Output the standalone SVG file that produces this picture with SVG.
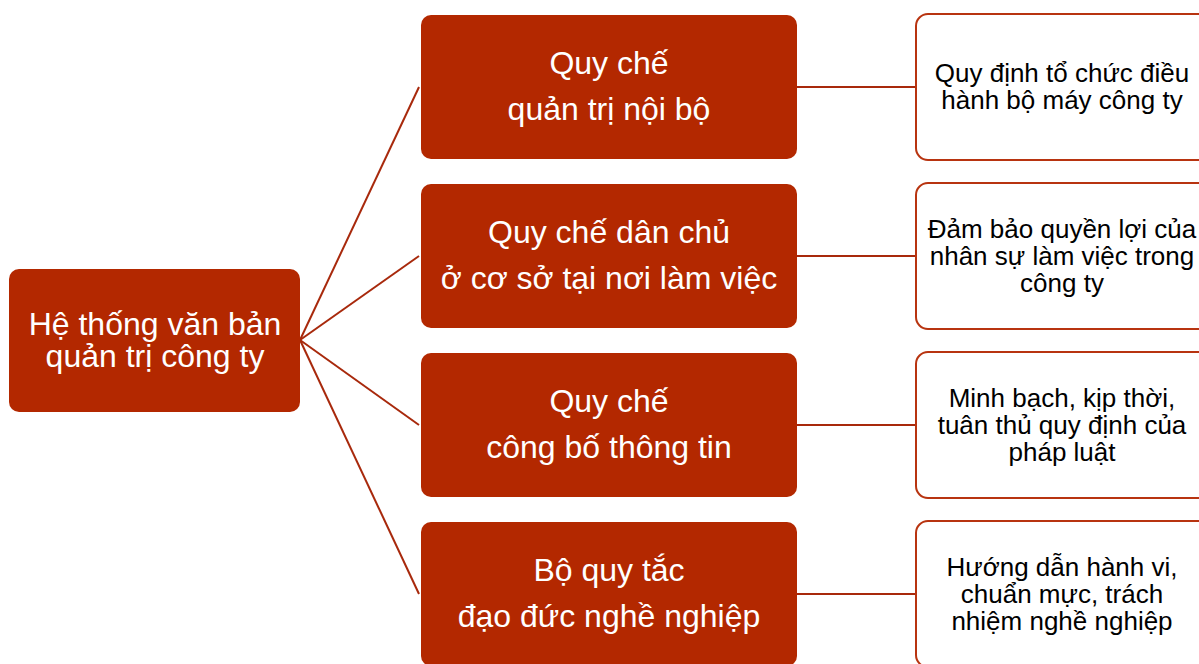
<svg xmlns="http://www.w3.org/2000/svg" width="1199" height="664" viewBox="0 0 1199 664">
  <style>
    .root, .mid { fill: #b32800; }
    .leaf { fill: #ffffff; stroke: #b83410; stroke-width: 2; }
    .link { stroke: #a8290c; stroke-width: 2; fill: none; }
    .wt { fill: #ffffff; font-family: "Liberation Sans", Arial, sans-serif; font-size: 32px; text-anchor: middle; }
    .bt { fill: #000000; font-family: "Liberation Sans", Arial, sans-serif; font-size: 26px; text-anchor: middle; }
  </style>
  <rect width="1199" height="664" fill="#ffffff"/>

  <g id="connectors">
    <line class="link" x1="300" y1="340" x2="419" y2="87"/>
    <line class="link" x1="300" y1="340" x2="419" y2="256"/>
    <line class="link" x1="300" y1="340" x2="419" y2="425"/>
    <line class="link" x1="300" y1="340" x2="419" y2="594"/>
    <line class="link" x1="797" y1="87" x2="916" y2="87"/>
    <line class="link" x1="797" y1="256" x2="916" y2="256"/>
    <line class="link" x1="797" y1="425" x2="916" y2="425"/>
    <line class="link" x1="797" y1="594" x2="916" y2="594"/>
  </g>

  <g id="root">
    <rect class="root" x="9" y="269" width="291" height="143" rx="10"/>
    <text class="wt" x="155" y="335">Hệ thống văn bản</text>
    <text class="wt" x="155" y="367">quản trị công ty</text>
  </g>

  <g id="mid1">
    <rect class="mid" x="421" y="15" width="376" height="144" rx="10"/>
    <text class="wt" x="609" y="74">Quy chế</text>
    <text class="wt" x="609" y="120">quản trị nội bộ</text>
  </g>
  <g id="mid2">
    <rect class="mid" x="421" y="184" width="376" height="144" rx="10"/>
    <text class="wt" x="609" y="243">Quy chế dân chủ</text>
    <text class="wt" x="609" y="289">ở cơ sở tại nơi làm việc</text>
  </g>
  <g id="mid3">
    <rect class="mid" x="421" y="353" width="376" height="144" rx="10"/>
    <text class="wt" x="609" y="412">Quy chế</text>
    <text class="wt" x="609" y="458">công bố thông tin</text>
  </g>
  <g id="mid4">
    <rect class="mid" x="421" y="522" width="376" height="144" rx="10"/>
    <text class="wt" x="609" y="581">Bộ quy tắc</text>
    <text class="wt" x="609" y="627">đạo đức nghề nghiệp</text>
  </g>

  <g id="leaf1">
    <rect class="leaf" x="916" y="14" width="300" height="146" rx="12"/>
    <text class="bt" x="1062" y="82">Quy định tổ chức điều</text>
    <text class="bt" x="1062" y="109">hành bộ máy công ty</text>
  </g>
  <g id="leaf2">
    <rect class="leaf" x="916" y="183" width="300" height="146" rx="12"/>
    <text class="bt" x="1062" y="238">Đảm bảo quyền lợi của</text>
    <text class="bt" x="1062" y="265">nhân sự làm việc trong</text>
    <text class="bt" x="1062" y="292">công ty</text>
  </g>
  <g id="leaf3">
    <rect class="leaf" x="916" y="352" width="300" height="146" rx="12"/>
    <text class="bt" x="1062" y="407">Minh bạch, kịp thời,</text>
    <text class="bt" x="1062" y="434">tuân thủ quy định của</text>
    <text class="bt" x="1062" y="461">pháp luật</text>
  </g>
  <g id="leaf4">
    <rect class="leaf" x="916" y="521" width="300" height="146" rx="12"/>
    <text class="bt" x="1062" y="576">Hướng dẫn hành vi,</text>
    <text class="bt" x="1062" y="603">chuẩn mực, trách</text>
    <text class="bt" x="1062" y="630">nhiệm nghề nghiệp</text>
  </g>
</svg>
